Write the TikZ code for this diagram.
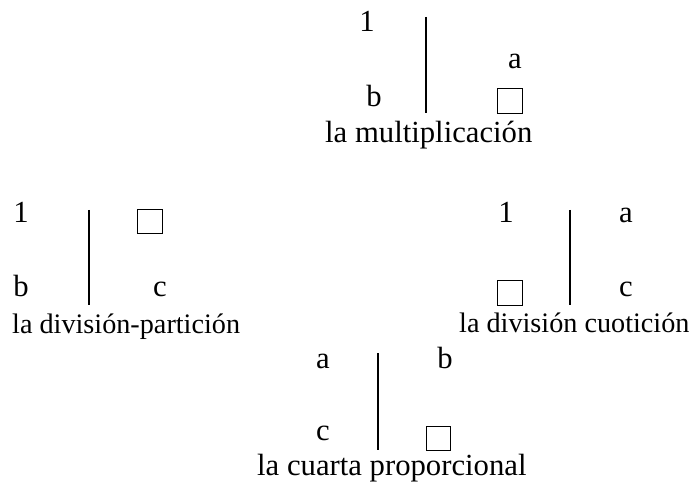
\documentclass[tikz,border=0pt]{standalone}
\usepackage{fontspec}
\setmainfont{Liberation Serif}

\tikzset{
  lbl/.style={anchor=base, inner sep=0pt, font=\fontsize{30.7bp}{36bp}\selectfont},
  title/.style={lbl, anchor=base west},
  small title/.style={title, font=\fontsize{28.2bp}{34bp}\selectfont},
  blank/.style={draw, line width=1.2bp, minimum size=24.5bp, inner sep=0pt},
  bar/.style={line width=1.5bp}
}

\begin{document}
\begin{tikzpicture}[x=1bp,y=-1bp]
        \useasboundingbox (0,0) rectangle (696,484);
        % la multiplicacion
        \coordinate (M1) at (426,17);
        \coordinate (M2) at (426,113);
        \draw[bar] (M1) -- (M2);
        \node[lbl] (m1) at (367,32) {1};
        \node[lbl] (ma) at (515,69) {a};
        \node[lbl] (mb) at (374,107) {b};
        \node[blank] (mx) at (510,101) {};
        \node[title] (mt) at (325,143) {la multiplicación};
        % la division-particion
        \coordinate (P1) at (89,210);
        \coordinate (P2) at (89,305);
        \draw[bar] (P1) -- (P2);
        \node[lbl] (p1) at (21,223) {1};
        \node[blank] (px) at (150,221.5) {};
        \node[lbl] (pb) at (21,296) {b};
        \node[lbl] (pc) at (160,296) {c};
        \node[small title] (pt) at (12,333) {la división-partición};
        % la division cuoticion
        \coordinate (C1) at (570,210);
        \coordinate (C2) at (570,305);
        \draw[bar] (C1) -- (C2);
        \node[lbl] (c1) at (506,223) {1};
        \node[lbl] (ca) at (626,223) {a};
        \node[blank] (cx) at (510,293) {};
        \node[lbl] (cc) at (626,296) {c};
        \node[small title] (ct) at (459,332) {la división cuotición};
        % la cuarta proporcional
        \coordinate (Q1) at (378,353);
        \coordinate (Q2) at (378,450);
        \draw[bar] (Q1) -- (Q2);
        \node[lbl] (qa) at (323,368) {a};
        \node[lbl] (qb) at (445,368) {b};
        \node[lbl] (qc) at (323,440) {c};
        \node[blank] (qx) at (438.5,438.5) {};
        \node[title] (qt) at (257,475) {la cuarta proporcional};
\end{tikzpicture}
\end{document}
